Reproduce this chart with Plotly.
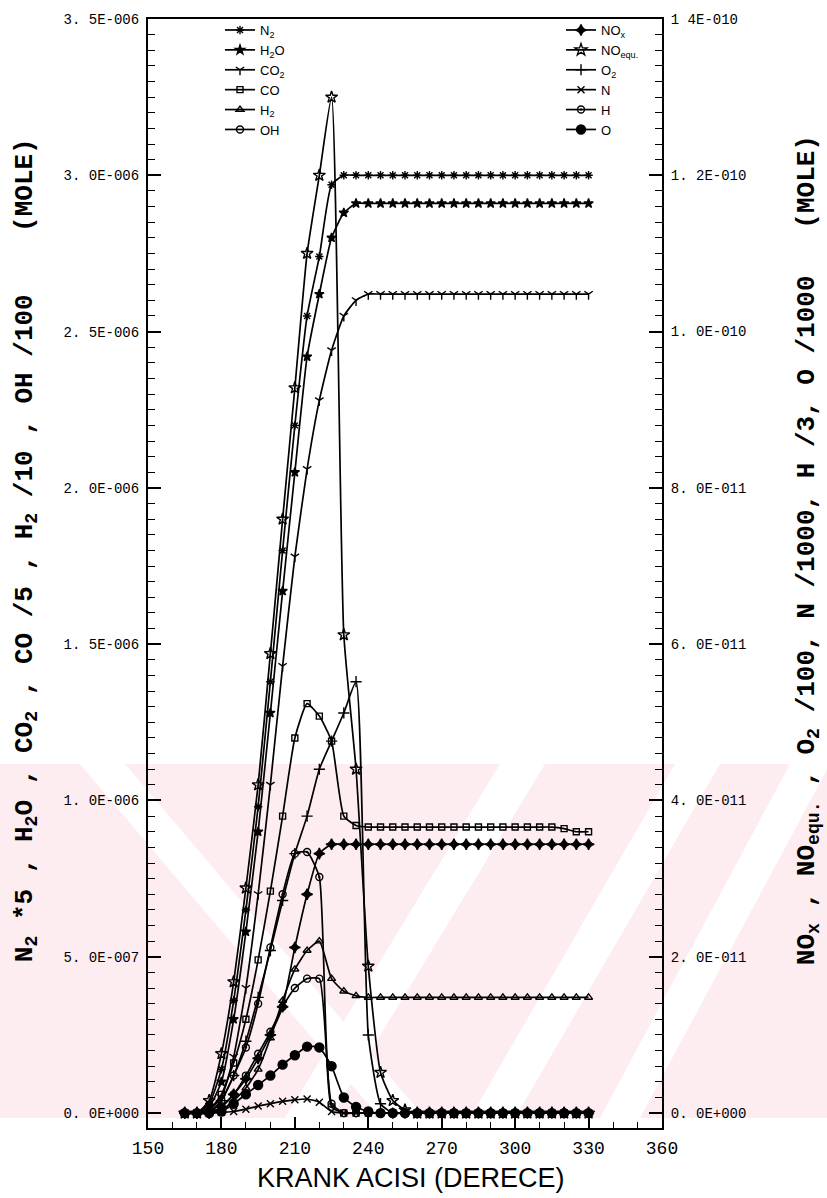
import plotly.graph_objects as go

# ---------------- data ----------------
angles = [165, 170, 175, 180, 185, 190, 195, 200, 205, 210, 215, 220, 225, 230, 235, 240, 245,
          250, 255, 260, 265, 270, 275, 280, 285, 290, 295, 300, 305, 310, 315, 320, 325, 330]

# left axis species (mole, units of 1e-6, already scaled as in the axis title)
n2_x5 = [0, 0, 0.03, 0.14, 0.36, 0.65, 0.98, 1.38, 1.80, 2.20, 2.55, 2.74, 2.97, 3.00, 3.00, 3.00, 3.00,
         3.00, 3.00, 3.00, 3.00, 3.00, 3.00, 3.00, 3.00, 3.00, 3.00, 3.00, 3.00, 3.00, 3.00, 3.00, 3.00, 3.00]
h2o = [0, 0, 0.02, 0.10, 0.30, 0.58, 0.90, 1.28, 1.67, 2.05, 2.42, 2.62, 2.80, 2.88, 2.91, 2.91, 2.91,
       2.91, 2.91, 2.91, 2.91, 2.91, 2.91, 2.91, 2.91, 2.91, 2.91, 2.91, 2.91, 2.91, 2.91, 2.91, 2.91, 2.91]
co2 = [0, 0, 0.01, 0.05, 0.18, 0.40, 0.70, 1.05, 1.43, 1.78, 2.06, 2.28, 2.44, 2.55, 2.60, 2.62, 2.62,
       2.62, 2.62, 2.62, 2.62, 2.62, 2.62, 2.62, 2.62, 2.62, 2.62, 2.62, 2.62, 2.62, 2.62, 2.62, 2.62, 2.62]
co_5 = [0, 0, 0.01, 0.06, 0.16, 0.30, 0.49, 0.71, 0.95, 1.20, 1.31, 1.27, 1.19, 0.95, 0.92, 0.915, 0.915,
        0.915, 0.915, 0.915, 0.915, 0.915, 0.915, 0.915, 0.915, 0.915, 0.915, 0.915, 0.915, 0.915, 0.915, 0.91, 0.90, 0.90]
h2_10 = [0, 0, 0, 0.01, 0.04, 0.08, 0.14, 0.24, 0.36, 0.46, 0.52, 0.55, 0.43, 0.39, 0.375, 0.37, 0.37,
         0.37, 0.37, 0.37, 0.37, 0.37, 0.37, 0.37, 0.37, 0.37, 0.37, 0.37, 0.37, 0.37, 0.37, 0.37, 0.37, 0.37]
oh_100 = [0, 0, 0, 0.02, 0.06, 0.12, 0.19, 0.26, 0.34, 0.40, 0.43, 0.43, 0.03, 0, 0, 0, 0,
          0, 0, 0, 0, 0, 0, 0, 0, 0, 0, 0, 0, 0, 0, 0, 0, 0]

# right axis species (mole, units of 1e-11, already scaled as in the axis title)
nox = [0, 0, 0, 0.08, 0.24, 0.44, 0.70, 1.00, 1.36, 2.12, 2.80, 3.32, 3.44, 3.44, 3.44, 3.44, 3.44,
       3.44, 3.44, 3.44, 3.44, 3.44, 3.44, 3.44, 3.44, 3.44, 3.44, 3.44, 3.44, 3.44, 3.44, 3.44, 3.44, 3.44]
no_equ = [0, 0, 0.16, 0.76, 1.68, 2.88, 4.20, 5.88, 7.60, 9.28, 11.00, 12.00, 13.00, 6.12, 4.40, 1.88, 0.52,
          0.16, 0.04, 0, 0, 0, 0, 0, 0, 0, 0, 0, 0, 0, 0, 0, 0, 0]
o2_100 = [0, 0, 0, 0.16, 0.48, 0.92, 1.48, 2.08, 2.72, 3.32, 3.80, 4.40, 4.76, 5.12, 5.52, 1.00, 0.12,
          0, 0, 0, 0, 0, 0, 0, 0, 0, 0, 0, 0, 0, 0, 0, 0, 0]
n_1000 = [0, 0, 0, 0.01, 0.02, 0.05, 0.09, 0.12, 0.15, 0.17, 0.18, 0.14, 0.02, 0, 0, 0, 0,
          0, 0, 0, 0, 0, 0, 0, 0, 0, 0, 0, 0, 0, 0, 0, 0, 0]
h_3 = [0, 0, 0, 0.16, 0.48, 0.84, 1.40, 2.12, 2.80, 3.32, 3.34, 3.02, 0.08, 0, 0, 0, 0,
       0, 0, 0, 0, 0, 0, 0, 0, 0, 0, 0, 0, 0, 0, 0, 0, 0]
o_1000 = [0, 0, 0, 0.02, 0.12, 0.24, 0.36, 0.48, 0.62, 0.74, 0.85, 0.84, 0.60, 0.20, 0.08, 0.02, 0,
          0, 0, 0, 0, 0, 0, 0, 0, 0, 0, 0, 0, 0, 0, 0, 0, 0]

left_ticks = [0, 0.5e-6, 1.0e-6, 1.5e-6, 2.0e-6, 2.5e-6, 3.0e-6, 3.5e-6]
left_ticktext = ["0. 0E+000", "5. 0E-007", "1. 0E-006", "1. 5E-006", "2. 0E-006",
                 "2. 5E-006", "3. 0E-006", "3. 5E-006"]
right_ticks = [0, 2e-11, 4e-11, 6e-11, 8e-11, 1.0e-10, 1.2e-10, 1.4e-10]
right_ticktext = ["0. 0E+000", "2. 0E-011", "4. 0E-011", "6. 0E-011", "8. 0E-011",
                  "1. 0E-010", "1. 2E-010", "1 4E-010"]
x_ticks = [150, 180, 210, 240, 270, 300, 330, 360]

# ---------------- figure ----------------
W, H = 827, 1198
ML, MR, MT, MB = 148, 165, 13, 70
PW, PH = W - ML - MR, H - MT - MB


def px(xp):
    return (xp - ML) / PW


def py(yp):
    return (H - MB - yp) / PH


fig = go.Figure()

left_series = [
    ("N<sub>2</sub>", n2_x5, "asterisk-open", 7, "legend"),
    ("H<sub>2</sub>O", h2o, "star", 7, "legend"),
    ("CO<sub>2</sub>", co2, "y-down-open", 7, "legend"),
    ("CO", co_5, "square-open", 6, "legend"),
    ("H<sub>2</sub>", h2_10, "triangle-up-open", 7, "legend"),
    ("OH", oh_100, "circle-open", 7, "legend"),
]
right_series = [
    ("NO<sub>x</sub>", nox, "star-diamond", 8, "legend2"),
    ("NO<sub>equ.</sub>", no_equ, "star-open", 9, "legend2"),
    ("O<sub>2</sub>", o2_100, "cross-thin-open", 8, "legend2"),
    ("N", n_1000, "x-thin-open", 7, "legend2"),
    ("H", h_3, "circle-open-dot", 7, "legend2"),
    ("O", o_1000, "circle", 9, "legend2"),
]

for name, vals, sym, size, leg in left_series:
    fig.add_trace(go.Scatter(
        x=angles, y=[v * 1e-6 for v in vals], name=name, mode="lines+markers",
        line=dict(color="black", width=1.7, shape="spline", smoothing=0.5),
        marker=dict(symbol=sym, size=size, color="black", line=dict(color="black", width=1.4)),
        cliponaxis=False, legend=leg, yaxis="y"))

for name, vals, sym, size, leg in right_series:
    fig.add_trace(go.Scatter(
        x=angles, y=[v * 1e-11 for v in vals], name=name, mode="lines+markers",
        line=dict(color="black", width=1.7, shape="spline", smoothing=0.5),
        marker=dict(symbol=sym, size=size, color="black", line=dict(color="black", width=1.4)),
        cliponaxis=False, legend=leg, yaxis="y2"))

# watermark-like pink band (background decoration of the scan)
pink = "#fdedf0"
shapes = [
    dict(type="rect", xref="paper", yref="paper", x0=px(0), x1=px(W), y0=py(1118), y1=py(762),
         fillcolor=pink, line=dict(width=0), layer="below"),
]


def stripe(x_top, x_bot, w):
    return dict(type="path", xref="paper", yref="paper", layer="below",
                path=f"M {px(x_top)} {py(762)} L {px(x_top + w)} {py(762)} "
                     f"L {px(x_bot + w)} {py(1118)} L {px(x_bot)} {py(1118)} Z",
                fillcolor="white", line=dict(width=0))


shapes += [stripe(80, 380, 45), stripe(500, 285, 45), stripe(675, 470, 45), stripe(790, 600, 40)]

label_font = dict(family="Liberation Mono", size=26, color="black", weight="bold")
annotations = [
    dict(text="N<sub>2</sub> *5 , H<sub>2</sub>O , CO<sub>2</sub> , CO /5 , H<sub>2</sub> /10 , OH /100    (MOLE)",
         xref="paper", yref="paper", x=px(26), y=py(547), textangle=-90, showarrow=False,
         font=label_font, xanchor="center", yanchor="middle"),
    dict(text="NO<sub>x</sub> , NO<sub>equ.</sub> , O<sub>2</sub> /100, N /1000, H /3, O /1000   (MOLE)",
         xref="paper", yref="paper", x=px(808), y=py(547), textangle=-90, showarrow=False,
         font=label_font, xanchor="center", yanchor="middle"),
    dict(text="KRANK ACISI (DERECE)", xref="paper", yref="paper", x=px(411), y=py(1178),
         showarrow=False, font=dict(family="Liberation Sans", size=27, color="black"),
         xanchor="center", yanchor="middle"),
]

axis_common = dict(showgrid=False, zeroline=False, showline=True, linecolor="black", linewidth=2,
                   ticks="inside", tickcolor="black", tickwidth=1.5)

legend_font = dict(family="Liberation Sans", size=13, color="black")

fig.update_layout(
    width=W, height=H, margin=dict(l=ML, r=MR, t=MT, b=MB),
    paper_bgcolor="white", plot_bgcolor="rgba(0,0,0,0)",
    font=dict(family="Liberation Mono", color="black"),
    xaxis=dict(range=[150, 360], tickvals=x_ticks, ticklen=11, mirror=True,
               tickfont=dict(size=18, family="Liberation Mono"), ticklabelstandoff=2,
               minor=dict(dtick=10, ticklen=6, ticks="inside", tickcolor="black", tickwidth=1.3),
               **axis_common),
    yaxis=dict(range=[-0.0477e-6, 3.5e-6], tickvals=left_ticks, ticktext=left_ticktext, ticklen=13,
               tickfont=dict(size=14, family="Liberation Mono"), ticklabelstandoff=4,
               minor=dict(dtick=0.05e-6, ticklen=7, ticks="inside", tickcolor="black", tickwidth=1.2),
               **axis_common),
    yaxis2=dict(range=[-1.909e-12, 1.4e-10], overlaying="y", side="right", tickvals=right_ticks,
                ticktext=right_ticktext, ticklen=13,
                tickfont=dict(size=14, family="Liberation Mono"), ticklabelstandoff=4,
                minor=dict(dtick=2e-12, ticklen=7, ticks="inside", tickcolor="black", tickwidth=1.2),
                **axis_common),
    legend=dict(x=px(220), y=py(9), xanchor="left", yanchor="top", bgcolor="rgba(0,0,0,0)",
                font=legend_font, itemwidth=30, tracegroupgap=0),
    legend2=dict(x=px(561), y=py(9), xanchor="left", yanchor="top", bgcolor="rgba(0,0,0,0)",
                 font=legend_font, itemwidth=30, tracegroupgap=0),
    shapes=shapes,
    annotations=annotations,
)

fig.write_html("out.html")
